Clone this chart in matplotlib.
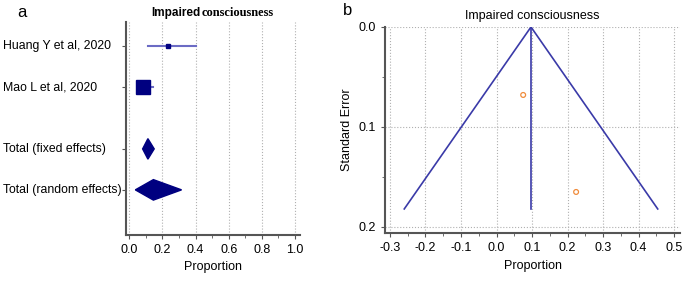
import matplotlib.pyplot as plt
import numpy as np

plt.rcParams['font.family'] = ['Liberation Sans', 'DejaVu Sans']

# forest plot data
studies = ["Huang Y et al, 2020", "Mao L et al, 2020",
           "Total (fixed effects)", "Total (random effects)"]
est = [0.232, 0.085, 0.112, 0.145]
ci_low = [0.11, 0.05, 0.08, 0.036]
ci_high = [0.40, 0.14, 0.15, 0.315]
weight_px = [3.5, 10.5]  # marker size of the two studies
rows = [0, 1, 2.5, 3.5]

# funnel plot data
pooled = 0.097
se_max = 0.182
study_prop = [0.075, 0.224]
study_se = [0.068, 0.165]

navy = '#000080'
spine_c = '#555555'

fig = plt.figure(figsize=(6.85, 2.81), dpi=100)

# ---- panel a: forest plot
ax1 = fig.add_axes([0.184, 0.164, 0.254, 0.758])
for i in range(2):
    ax1.plot([ci_low[i], ci_high[i]], [rows[i], rows[i]], color='#6b6bc4', lw=1.5, zorder=2)
    ax1.plot(est[i], rows[i], marker='s', ms=weight_px[i], color=navy, zorder=3)
for i in range(2, 4):
    dx = [ci_low[i], est[i], ci_high[i], est[i], ci_low[i]]
    dy = [rows[i], rows[i] - 0.25, rows[i], rows[i] + 0.25, rows[i]]
    ax1.fill(dx, dy, color=navy, zorder=3)

ax1.set_xlim(-0.02, 1.03)
ax1.set_ylim(4.6, -0.6)
ax1.set_xticks(np.arange(0, 1.01, 0.2))
ax1.set_xticks(np.arange(0, 1.01, 0.1), minor=True)
ax1.set_xticklabels(['0.0', '0.2', '0.4', '0.6', '0.8', '1.0'])
ax1.set_yticks(rows)
ax1.set_yticklabels([])
# study labels, left aligned at the figure edge
lab_tr = ax1.get_yaxis_transform().__class__(fig.transFigure, ax1.transData)
for r, name in zip(rows, studies):
    ax1.text(0.005, r, name, transform=lab_tr, ha='left', va='center', fontsize=8.8)
ax1.grid(axis='x', which='major', linestyle=':', color='#b0b0b0', lw=0.8)
for s in ['top', 'right']:
    ax1.spines[s].set_visible(False)
for s in ['left', 'bottom']:
    ax1.spines[s].set_color(spine_c)
    ax1.spines[s].set_linewidth(1.5)
ax1.tick_params(axis='both', colors=spine_c, labelcolor='black', labelsize=9, length=3)
ax1.tick_params(axis='x', which='minor', colors=spine_c, length=2)
ax1.set_xlabel('Proportion', fontsize=9)
# mixed-font title as in the original
fig.text(0.292, 0.955, 'Impaired', fontsize=8.5, fontweight='bold', ha='right', va='center')
fig.text(0.294, 0.953, 'consciousness', fontsize=9, fontweight='bold',
         family='Liberation Serif', ha='left', va='center')
fig.text(0.032, 0.955, 'a', fontsize=12, ha='center', va='center')

# ---- panel b: funnel plot
ax2 = fig.add_axes([0.562, 0.171, 0.431, 0.733])
ax2.plot([pooled - 1.96 * se_max, pooled, pooled + 1.96 * se_max],
         [se_max, 0, se_max], color='#3a3aa8', lw=1.2)
ax2.plot([pooled, pooled], [0, se_max], color='#3a3aa8', lw=1.2)
ax2.scatter(study_prop, study_se, s=12, facecolors='none', edgecolors='#f08c3c', lw=0.9, zorder=3)

ax2.set_xlim(-0.314, 0.517)
ax2.set_ylim(0.206, 0)
ax2.set_xticks(np.arange(-0.3, 0.51, 0.1))
ax2.set_xticks(np.arange(-0.3, 0.51, 0.05), minor=True)
ax2.set_xticklabels(['-0.3', '-0.2', '-0.1', '0.0', '0.1', '0.2', '0.3', '0.4', '0.5'])
ax2.set_yticks([0, 0.1, 0.2])
ax2.set_yticks([0, 0.05, 0.1, 0.15, 0.2], minor=True)
ax2.set_yticklabels(['0.0', '0.1', '0.2'])
ax2.grid(which='major', linestyle=':', color='#b0b0b0', lw=0.8)
for s in ['top', 'right']:
    ax2.spines[s].set_visible(False)
for s in ['left', 'bottom']:
    ax2.spines[s].set_color(spine_c)
    ax2.spines[s].set_linewidth(1.5)
ax2.tick_params(axis='both', colors=spine_c, labelcolor='black', labelsize=9, length=3)
ax2.tick_params(axis='both', which='minor', colors=spine_c, length=2)
ax2.set_xlabel('Proportion', fontsize=9)
ax2.set_ylabel('Standard Error', fontsize=9)
ax2.set_title('Impaired consciousness', fontsize=9, pad=6)
fig.text(0.508, 0.962, 'b', fontsize=12, ha='center', va='center')

fig.savefig('out.png', dpi=100)
